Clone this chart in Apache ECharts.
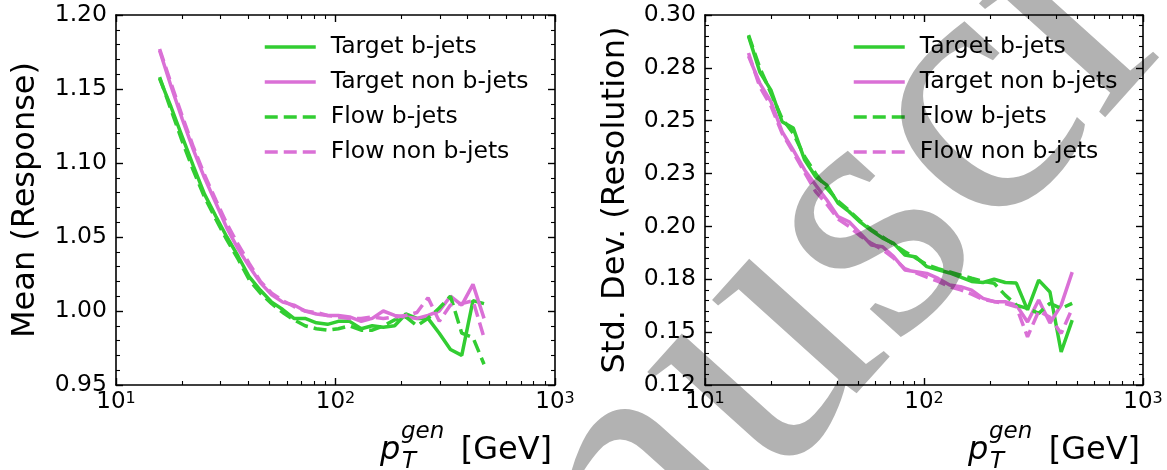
<!DOCTYPE html>
<html>
<head>
<meta charset="utf-8">
<script src="https://cdn.jsdelivr.net/npm/echarts@6/dist/echarts.min.js"></script>
<style>
  html, body { margin: 0; padding: 0; background: #fff; }
  #chart { width: 1167px; height: 470px; }
</style>
</head>
<body>
<div id="chart"></div>
<script>
// pT bin centres (GeV), log spaced
const ptBins = [15.8, 17.8, 20.0, 22.5, 25.3, 28.5, 32.0, 36.0, 40.5, 45.5, 51.2, 57.5, 64.7, 72.7, 81.8,
  92.0, 103, 116, 131, 147, 165, 186, 209, 235, 264, 297, 334, 376, 423, 475]

// left panel: mean (response)
const meanTargetB = [1.157, 1.138, 1.118, 1.098, 1.079, 1.064, 1.050, 1.037, 1.023, 1.014, 1.006, 1.001, 0.995, 0.995, 0.992,
  0.991, 0.993, 0.993, 0.988, 0.990, 0.989, 0.990, 0.998, 0.995, 0.995, 0.985, 0.974, 0.970, 1.007, 1.005]
const meanTargetNonB = [1.176, 1.152, 1.130, 1.109, 1.090, 1.073, 1.056, 1.042, 1.030, 1.019, 1.011, 1.006, 1.004, 1.000, 0.998,
  0.997, 0.997, 0.996, 0.993, 0.995, 1.000, 0.997, 0.996, 0.995, 0.997, 1.000, 1.010, 1.004, 1.018, 0.995]
const meanFlowB = [1.158, 1.136, 1.115, 1.095, 1.077, 1.062, 1.048, 1.035, 1.021, 1.012, 1.005, 0.999, 0.994, 0.990, 0.988,
  0.987, 0.988, 0.990, 0.987, 0.987, 0.990, 0.994, 0.996, 0.990, 0.995, 1.002, 1.010, 0.985, 0.982, 0.964]
const meanFlowNonB = [1.177, 1.154, 1.132, 1.111, 1.092, 1.075, 1.059, 1.045, 1.032, 1.020, 1.012, 1.007, 1.003, 1.000, 0.999,
  0.997, 0.996, 0.995, 0.995, 0.996, 0.995, 0.996, 0.997, 0.999, 1.009, 0.993, 1.004, 1.005, 1.007, 0.982]

// right panel: std. dev. (resolution)
const stdTargetB = [0.2900, 0.2730, 0.2645, 0.2495, 0.2465, 0.2315, 0.2235, 0.2195, 0.2110, 0.2070, 0.2020, 0.1980, 0.1945, 0.1920, 0.1865,
  0.1855, 0.1810, 0.1795, 0.1780, 0.1760, 0.1740, 0.1735, 0.1750, 0.1735, 0.1732, 0.1605, 0.1746, 0.1690, 0.1406, 0.1557]
const stdTargetNonB = [0.2806, 0.2677, 0.2590, 0.2448, 0.2361, 0.2267, 0.2196, 0.2125, 0.2046, 0.2022, 0.1967, 0.1912, 0.1904, 0.1857, 0.1794,
  0.1786, 0.1778, 0.1754, 0.1723, 0.1715, 0.1699, 0.1660, 0.1644, 0.1644, 0.1628, 0.1548, 0.1652, 0.1543, 0.1628, 0.1784]
const stdFlowB = [0.2905, 0.2750, 0.2630, 0.2510, 0.2440, 0.2330, 0.2250, 0.2180, 0.2120, 0.2075, 0.2025, 0.1985, 0.1950, 0.1915, 0.1880,
  0.1850, 0.1820, 0.1800, 0.1785, 0.1770, 0.1755, 0.1740, 0.1731, 0.1675, 0.1628, 0.1612, 0.1589, 0.1636, 0.1612, 0.1636]
const stdFlowNonB = [0.2820, 0.2660, 0.2570, 0.2440, 0.2350, 0.2255, 0.2165, 0.2105, 0.2035, 0.2000, 0.1955, 0.1920, 0.1890, 0.1850, 0.1800,
  0.1780, 0.1760, 0.1740, 0.1715, 0.1700, 0.1680, 0.1655, 0.1645, 0.1635, 0.1620, 0.1478, 0.1600, 0.1570, 0.1494, 0.1612]

const seriesNames = ['Target b-jets', 'Target non b-jets', 'Flow b-jets', 'Flow non b-jets']

// tick labels
const xTickValues = [10, 100, 1000]
const xTickExponents = ['1', '2', '3']
const xMinorTicks = [20, 30, 40, 50, 60, 70, 80, 90, 200, 300, 400, 500, 600, 700, 800, 900]
const meanTickLabels = ['0.95', '1.00', '1.05', '1.10', '1.15', '1.20']
const stdTickLabels = ['0.12', '0.15', '0.18', '0.20', '0.23', '0.25', '0.28', '0.30']

const GREEN = '#32cd32', ORCHID = '#da70d6'
const FONT = 'DejaVu Sans'
const DASH = [13, 6]

let grids = [
  { left: 116, top: 15, width: 439, height: 370, right: 555 },
  { left: 705, top: 15, width: 438, height: 370, right: 1143 }
]

function line(name, values, color, dashed, gi) {
  return {
    name: name,
    type: 'line',
    xAxisIndex: gi * 4,
    yAxisIndex: gi * 2,
    symbol: 'none',
    data: ptBins.map((x, i) => [x, values[i]]),
    lineStyle: { color: color, width: 3.5, type: dashed ? DASH : 'solid' },
    itemStyle: { color: color }
  }
}

// 4 log x axes per grid: bottom major/minor, top major/minor
function xAxes(gi) {
  let res = []
  ;['bottom', 'top'].forEach(pos => {
    let main = pos === 'bottom'
    res.push({
      type: 'log', logBase: 10, gridIndex: gi, min: 10, max: 1000, position: pos,
      axisLine: { show: true, onZero: false, lineStyle: { color: '#000', width: 1.6 } },
      axisTick: { show: true, inside: true, length: 7, customValues: xTickValues, lineStyle: { color: '#000', width: 1.4 } },
      axisLabel: {
        show: main, customValues: xTickValues, margin: 6, color: '#000', fontFamily: FONT,
        formatter: v => '{b|10}{s|' + xTickExponents[Math.round(Math.log10(v)) - 1] + '}',
        rich: {
          b: { fontSize: 23, fontFamily: FONT, color: '#000' },
          s: { fontSize: 16, fontFamily: FONT, color: '#000', verticalAlign: 'top', lineHeight: 14 }
        }
      },
      splitLine: { show: false }
    })
    res.push({
      type: 'log', logBase: 10, gridIndex: gi, min: 10, max: 1000, position: pos,
      axisLine: { show: false, onZero: false },
      axisTick: { show: true, inside: true, length: 4, customValues: xMinorTicks, lineStyle: { color: '#000', width: 1.1 } },
      axisLabel: { show: false },
      splitLine: { show: false }
    })
  })
  return res
}

function yAxes(gi, min, max, interval, labels) {
  return ['left', 'right'].map(pos => ({
    type: 'value', gridIndex: gi, min: min, max: max, interval: interval, position: pos,
    axisLine: { show: true, onZero: false, lineStyle: { color: '#000', width: 1.6 } },
    axisTick: { show: true, inside: true, length: 7, lineStyle: { color: '#000', width: 1.4 } },
    minorTick: { show: true, splitNumber: 5, length: 4, lineStyle: { color: '#000', width: 1.1 } },
    axisLabel: {
      show: pos === 'left', margin: 9, color: '#000', fontSize: 23.5, fontFamily: FONT,
      formatter: v => labels[Math.round((v - min) / interval)]
    },
    splitLine: { show: false },
    minorSplitLine: { show: false }
  }))
}

function legend(left) {
  return {
    data: seriesNames, orient: 'vertical', left: left, top: 35, padding: 0,
    itemWidth: 51, itemHeight: 14, itemGap: 11,
    lineStyle: { width: 3.5 },
    itemStyle: { opacity: 0 },  // hide the dot, keep the line sample
    textStyle: { color: '#000', fontSize: 23.5, fontFamily: FONT, lineHeight: 24, padding: [0, 0, 0, 10] }
  }
}

// x title p_T^gen [GeV], right aligned to the plot
function xTitle(gr) {
  let base = { fill: '#000', fontFamily: FONT, verticalAlign: 'middle' }
  return [
    { type: 'text', x: gr - 175, y: 451, style: Object.assign({ text: 'p', fontSize: 32, fontStyle: 'italic' }, base) },
    { type: 'text', x: gr - 154, y: 432, style: Object.assign({ text: 'gen', fontSize: 23, fontStyle: 'italic' }, base) },
    { type: 'text', x: gr - 153, y: 462, style: Object.assign({ text: 'T', fontSize: 23, fontStyle: 'italic' }, base) },
    { type: 'text', x: gr - 3, y: 451, style: Object.assign({ text: '[GeV]', fontSize: 32, align: 'right' }, base) }
  ]
}

function yTitle(x, text) {
  return {
    type: 'text', x: x, y: 200, rotation: Math.PI / 2,
    style: { text: text, fill: '#000', fontFamily: FONT, fontSize: 32, align: 'center', verticalAlign: 'middle' }
  }
}

const chart = echarts.init(document.getElementById('chart'), null, { renderer: 'canvas' })
chart.setOption({
  animation: false,
  backgroundColor: '#fff',
  grid: grids.map(g => ({ left: g.left, top: g.top, width: g.width, height: g.height, containLabel: false, outerBoundsMode: 'none' })),
  xAxis: xAxes(0).concat(xAxes(1)),
  yAxis: yAxes(0, 0.95, 1.20, 0.05, meanTickLabels).concat(yAxes(1, 0.125, 0.30, 0.025, stdTickLabels)),
  legend: [legend(263), legend(852)],
  series: [
    line(seriesNames[0], meanTargetB, GREEN, false, 0),
    line(seriesNames[1], meanTargetNonB, ORCHID, false, 0),
    line(seriesNames[2], meanFlowB, GREEN, true, 0),
    line(seriesNames[3], meanFlowNonB, ORCHID, true, 0),
    line(seriesNames[0], stdTargetB, GREEN, false, 1),
    line(seriesNames[1], stdTargetNonB, ORCHID, false, 1),
    line(seriesNames[2], stdFlowB, GREEN, true, 1),
    line(seriesNames[3], stdFlowNonB, ORCHID, true, 1)
  ],
  graphic: [
    yTitle(25.5, 'Mean (Response)'),
    yTitle(615.5, 'Std. Dev. (Resolution)')
  ].concat(xTitle(grids[0].right), xTitle(grids[1].right), [
    // manuscript watermark across the figure
    {
      type: 'text', x: 808, y: 302, rotation: 48 * Math.PI / 180, z: 100, silent: true,
      style: { text: 'Manuscript', fontFamily: 'Liberation Serif', fontSize: 370, fill: 'rgba(0,0,0,0.3)', align: 'center', verticalAlign: 'middle' }
    }
  ])
})
</script>
</body>
</html>
